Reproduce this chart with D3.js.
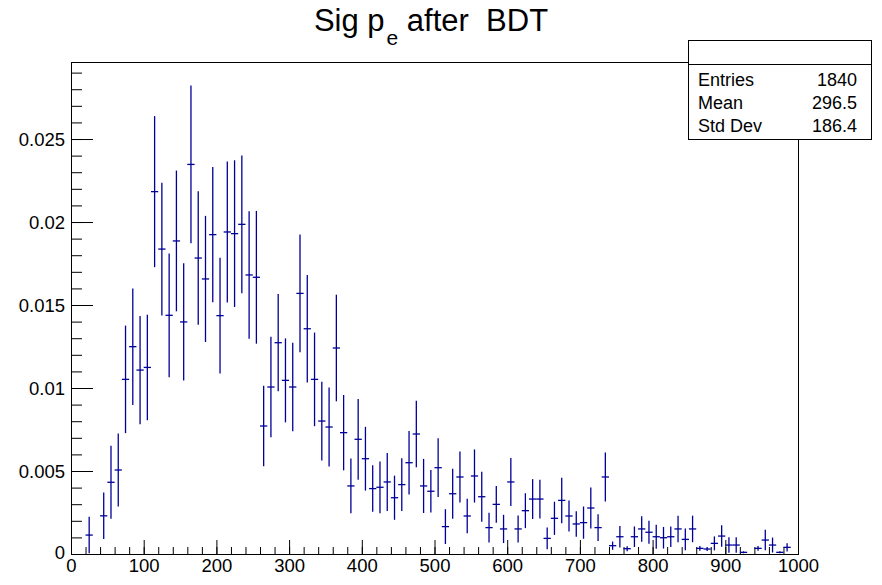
<!DOCTYPE html>
<html>
<head>
<meta charset="utf-8">
<script src="https://cdn.jsdelivr.net/npm/d3@7/dist/d3.min.js"></script>
<style>
  html, body { margin: 0; padding: 0; background: #fff; }
  svg { display: block; font-family: "Liberation Sans", Arial, Helvetica, sans-serif; }
</style>
</head>
<body>
<svg id="chart" width="882" height="585"></svg>
<script>
// ---- data ----
const binWidth = 10;
const binLow = d3.range(0, 1000, binWidth);
const values = [
  0, 0, 0.00114, 0, 0.0023, 0.00432, 0.00506, 0.01052, 0.01249, 0.01108,
  0.01124, 0.02183, 0.01837, 0.01438, 0.01886, 0.01398, 0.02347, 0.01783, 0.01657, 0.01924,
  0.01436, 0.0194, 0.0193, 0.01986, 0.01681, 0.01667, 0.00771, 0.01006, 0.01273, 0.01046,
  0.01006, 0.0157, 0.01357, 0.01052, 0.00801, 0.00765, 0.01241, 0.00731, 0.0041, 0.00691,
  0.00574, 0.00394, 0.00402, 0.00434, 0.00339, 0.00418, 0.0055, 0.00723, 0.0041, 0.00378,
  0.0052, 0.00165, 0.00363, 0.00464, 0.00229, 0.0047, 0.00345, 0.00159, 0.00299, 0.00151,
  0.00434, 0.00151, 0.00261, 0.00331, 0.00331, 0.00094, 0.00215, 0.00323, 0.00229, 0.00181,
  0.00189, 0.00277, 0.00159, 0.00464, 0.0005, 0.00104, 0.00032, 0.00104, 0.00151, 0.00131,
  0.00104, 0.00098, 0.00104, 0.00151, 0.00088, 0.00151, 0.00034, 0.0003, 0.00064, 0.00108,
  0.00054, 0.00054, 0.0001, 0, 0.00034, 0.00084, 0.00054, 0.0001, 0.0004, 0
];
const errors = [
  0, 0, 0.0011, 0, 0.0014, 0.0022, 0.0022, 0.00324, 0.00351, 0.00326,
  0.00318, 0.00455, 0.0040, 0.00373, 0.00424, 0.00353, 0.00475, 0.00402, 0.0038, 0.00408,
  0.00348, 0.00425, 0.00442, 0.00415, 0.00384, 0.0040, 0.00242, 0.00303, 0.00293, 0.00253,
  0.00266, 0.00355, 0.00324, 0.00282, 0.00237, 0.00238, 0.00321, 0.00227, 0.00165, 0.00243,
  0.00192, 0.0014, 0.00156, 0.00175, 0.00133, 0.00159, 0.00191, 0.0020, 0.00163, 0.00128,
  0.00177, 0.00105, 0.0015, 0.00153, 0.00104, 0.0016, 0.0015, 0.00089, 0.0011, 0.00085,
  0.00145, 0.00081, 0.00105, 0.0012, 0.00117, 0.00066, 0.0010, 0.00137, 0.00093, 0.00077,
  0.00097, 0.00124, 0.0008, 0.00148, 0.00025, 0.00065, 0.00015, 0.00062, 0.00077, 0.0007,
  0.00072, 0.00065, 0.00062, 0.0008, 0.00065, 0.0008, 0.00014, 0.00012, 0.00042, 0.00065,
  0.00047, 0.00047, 0.00006, 0, 0.00014, 0.00062, 0.00045, 0.00006, 0.00025, 0
];
const xMajorTicks = [0, 100, 200, 300, 400, 500, 600, 700, 800, 900, 1000];
const xMinorTicks = d3.range(0, 1001, 20);
const yMajorTicks = [0, 0.005, 0.01, 0.015, 0.02, 0.025];
const yTickLabels = ["0", "0.005", "0.01", "0.015", "0.02", "0.025"];
const yMinorTicks = d3.range(0, 0.0295, 0.001);
const statsLabels = ["Entries", "Mean", "Std Dev"];
const statsValues = ["1840", "296.5", "186.4"];
const yMax = 0.02964;

// ---- layout ----
const svg = d3.select("#chart");
const L = 71, R = 798, T = 62, B = 554;
const x = d3.scaleLinear().domain([0, 1000]).range([L, R]);
const y = d3.scaleLinear().domain([0, yMax]).range([B, T]);
const color = "#000099";

// title
const title = svg.append("text")
  .attr("x", 431).attr("y", 31)
  .attr("text-anchor", "middle")
  .style("white-space", "pre")
  .attr("xml:space", "preserve")
  .style("font-size", "31px").attr("fill", "#000");
title.append("tspan").text("Sig p");
title.append("tspan").attr("dx", 2).attr("dy", 14).style("font-size", "21px").text("e");
title.append("tspan").attr("dy", -14).text(" after  BDT");

// axes
const fontSize = "18.5px";
const xAxisMajor = d3.axisBottom(x).tickValues(xMajorTicks).tickSize(-14).tickPadding(6)
  .tickFormat(d3.format("d"));
const xAxisMinor = d3.axisBottom(x).tickValues(xMinorTicks).tickSize(-7).tickFormat("");
const gxm = svg.append("g").attr("transform", `translate(0,${B})`).call(xAxisMinor);
const gx = svg.append("g").attr("transform", `translate(0,${B})`).call(xAxisMajor);
[gxm, gx].forEach(g => { g.select(".domain").remove(); g.selectAll("line").attr("stroke", "#000"); });
gx.selectAll("text").style("font-size", fontSize).attr("fill", "#000").attr("dy", "0.66em");

const yAxisMajor = d3.axisLeft(y).tickValues(yMajorTicks).tickSize(-22).tickPadding(6)
  .tickFormat((d, i) => yTickLabels[i]);
const yAxisMinor = d3.axisLeft(y).tickValues(yMinorTicks).tickSize(-11).tickFormat("");
const gym = svg.append("g").attr("transform", `translate(${L},0)`).call(yAxisMinor);
const gy = svg.append("g").attr("transform", `translate(${L},0)`).call(yAxisMajor);
[gym, gy].forEach(g => { g.select(".domain").remove(); g.selectAll("line").attr("stroke", "#000"); });
gy.selectAll("text").style("font-size", fontSize).attr("fill", "#000").attr("dy", "0.36em");
gy.selectAll(".tick").filter(d => d === 0).select("text").attr("dy", "0.22em");

// frame
svg.append("rect").attr("x", L + 0.5).attr("y", T + 0.5)
  .attr("width", R - L).attr("height", B - T)
  .attr("fill", "none").attr("stroke", "#000").attr("stroke-width", 1);

// data points with error bars
const pts = binLow.map((lo, i) => ({ lo, v: values[i], e: errors[i] })).filter(d => d.v > 0);
const g = svg.append("g").attr("stroke", color).attr("stroke-width", 1.3);
g.selectAll("line.v").data(pts).join("line").attr("class", "v")
  .attr("x1", d => x(d.lo + binWidth / 2)).attr("x2", d => x(d.lo + binWidth / 2))
  .attr("y1", d => y(Math.max(0, d.v - d.e))).attr("y2", d => y(d.v + d.e));
g.selectAll("line.h").data(pts).join("line").attr("class", "h")
  .attr("x1", d => x(d.lo)).attr("x2", d => x(d.lo + binWidth))
  .attr("y1", d => y(d.v)).attr("y2", d => y(d.v));

// stats box
const sb = { x: 688.5, y: 40.5, w: 183, h: 99 };
svg.append("rect").attr("x", sb.x).attr("y", sb.y).attr("width", sb.w).attr("height", sb.h)
  .attr("fill", "#fff").attr("stroke", "#000").attr("stroke-width", 1);
svg.append("line").attr("x1", sb.x).attr("x2", sb.x + sb.w).attr("y1", 64.5).attr("y2", 64.5)
  .attr("stroke", "#000").attr("stroke-width", 1);
statsLabels.forEach((lab, i) => {
  const yy = 85.5 + i * 23.2;
  svg.append("text").attr("x", 698).attr("y", yy).style("font-size", "18px").text(lab);
  svg.append("text").attr("x", 857).attr("y", yy).attr("text-anchor", "end")
    .style("font-size", "18px").text(statsValues[i]);
});
</script>
</body>
</html>
